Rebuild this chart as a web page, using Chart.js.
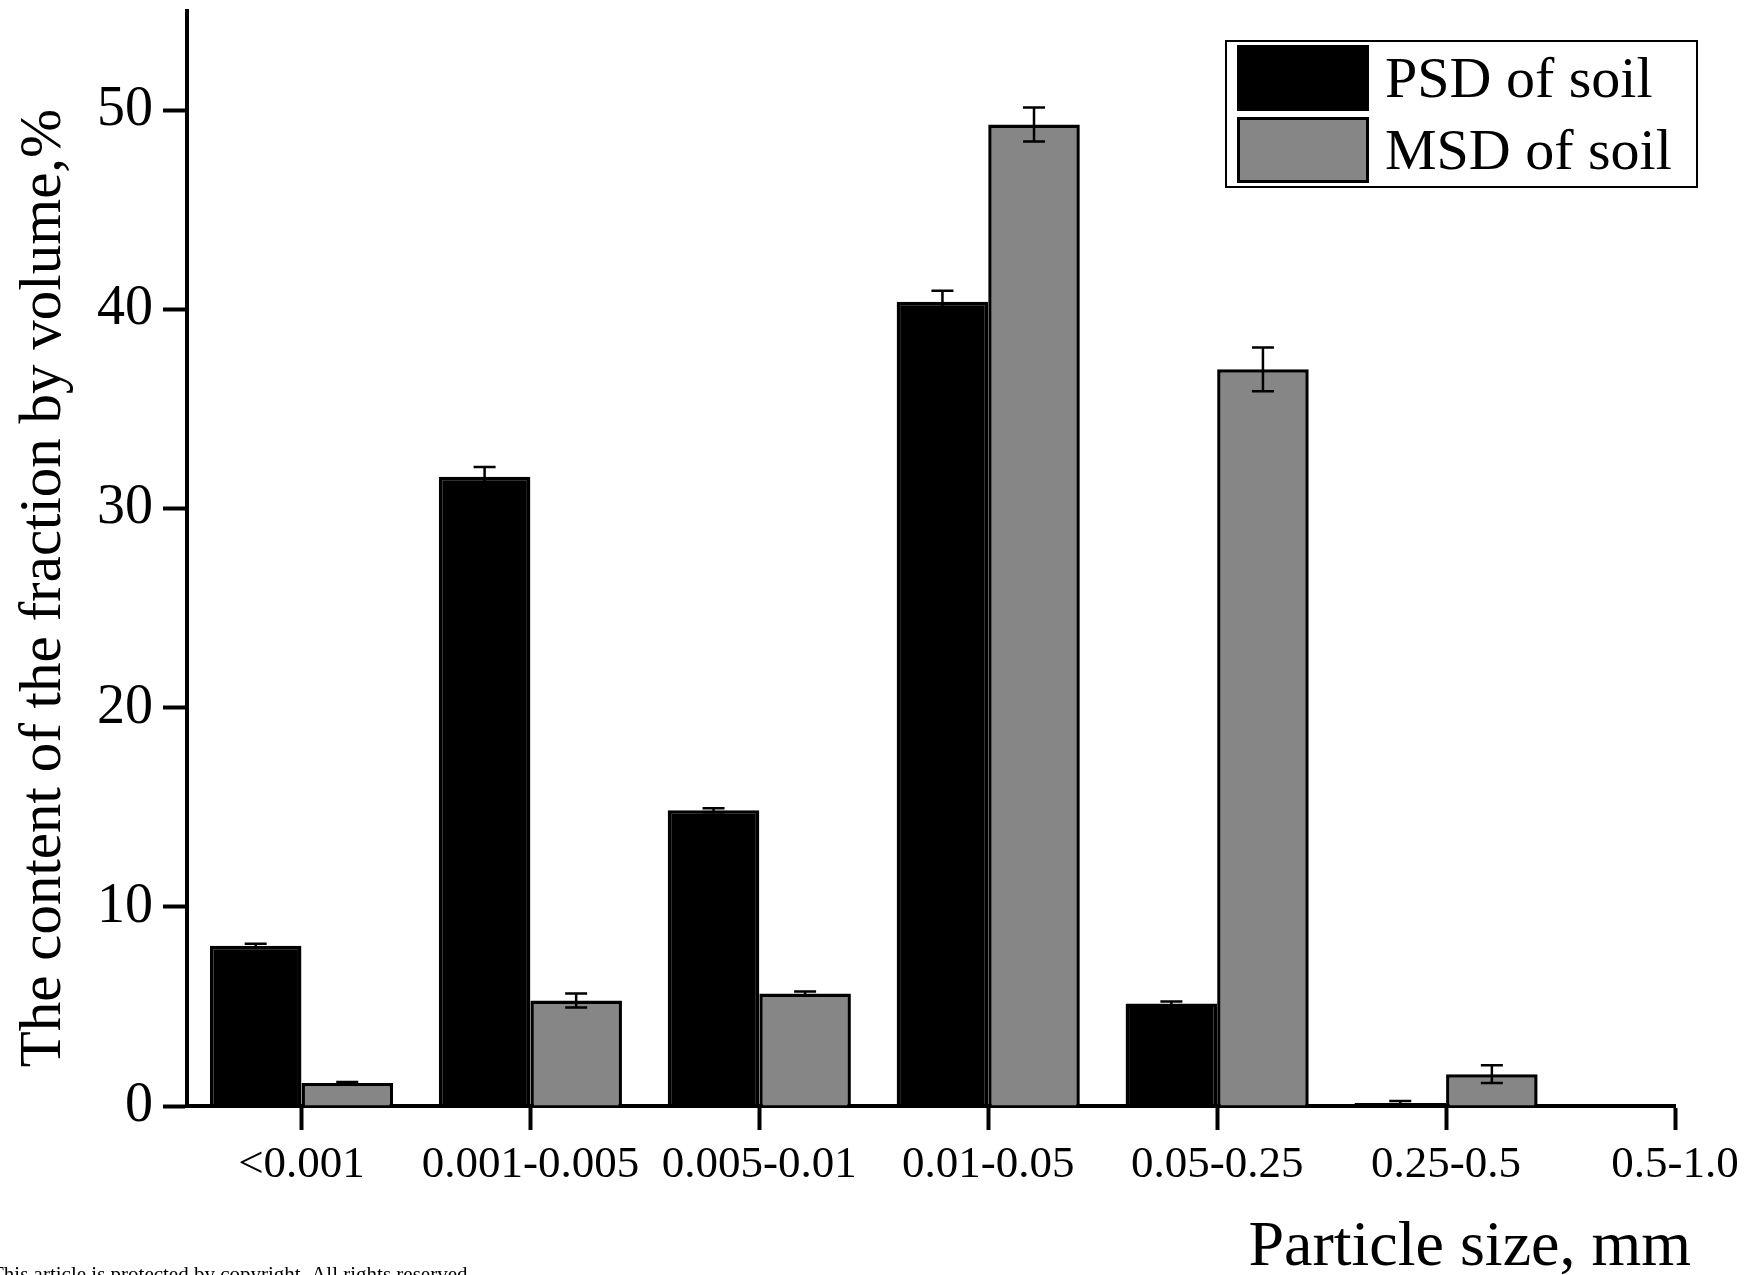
<!DOCTYPE html>
<html lang="en">
<head>
<meta charset="UTF-8">
<title>Particle size distribution of soil</title>
<script src="https://cdn.jsdelivr.net/npm/chart.js"></script>
<style>
  html, body { margin: 0; padding: 0; background: #fff; overflow: hidden; }
</style>
</head>
<body>
<canvas id="sizeChart" width="1747" height="1275"></canvas>
<script>
// particle size fractions, mm
const sizeLabels = ['<0.001', '0.001-0.005', '0.005-0.01', '0.01-0.05', '0.05-0.25', '0.25-0.5', '0.5-1.0'];
// content of each fraction by volume, %
const psdValues = [8.05, 31.6, 14.85, 40.4, 5.15, 0.15];
const psdErrors = [0.1, 0.5, 0.1, 0.55, 0.1, 0.1];
const msdValues = [1.15, 5.3, 5.65, 49.3, 37.0, 1.6];
const msdErrors = [0.06, 0.35, 0.1, 0.85, 1.1, 0.45];
const yTicks = [0, 10, 20, 30, 40, 50];

const serif = "'Liberation Serif', 'Times New Roman', serif";

function toPoints(values) {
    return values.map((v, i) => ({ x: i, y: v }));
}

// draws the +/- error whiskers on top of every bar
const errorBars = {
    id: 'errorBars',
    afterDatasetsDraw(chart) {
        const ctx = chart.ctx;
        const yScale = chart.scales.y;
        ctx.save();
        ctx.strokeStyle = '#000';
        ctx.lineWidth = 2.5;
        chart.data.datasets.forEach((ds, di) => {
            chart.getDatasetMeta(di).data.forEach((bar, i) => {
                const v = ds.data[i].y;
                const e = ds.errors[i];
                const top = yScale.getPixelForValue(v + e);
                const bot = yScale.getPixelForValue(Math.max(0, v - e));
                ctx.beginPath();
                ctx.moveTo(bar.x, top); ctx.lineTo(bar.x, bot);
                ctx.moveTo(bar.x - 11, top); ctx.lineTo(bar.x + 11, top);
                ctx.moveTo(bar.x - 11, bot); ctx.lineTo(bar.x + 11, bot);
                ctx.stroke();
            });
        });
        ctx.restore();
    }
};

// axis titles, framed legend and the page footer text
const decorations = {
    id: 'decorations',
    afterDraw(chart) {
        const ctx = chart.ctx;
        ctx.save();
        ctx.fillStyle = '#000';

        // y title
        ctx.font = '59px ' + serif;
        ctx.textAlign = 'center';
        ctx.textBaseline = 'alphabetic';
        ctx.save();
        ctx.translate(60, 588);
        ctx.rotate(-Math.PI / 2);
        ctx.fillText('The content of the fraction by volume,%', 0, 0);
        ctx.restore();

        // x title
        ctx.font = '64px ' + serif;
        ctx.textAlign = 'right';
        ctx.fillText('Particle size, mm', 1691, 1265);

        // legend
        ctx.lineWidth = 2;
        ctx.strokeStyle = '#000';
        ctx.strokeRect(1226, 41, 471, 146);
        ctx.font = '58px ' + serif;
        ctx.textAlign = 'left';
        chart.data.datasets.forEach((ds, i) => {
            const top = 45 + i * 72;
            ctx.fillStyle = ds.backgroundColor;
            ctx.fillRect(1237, top, 132, 66);
            ctx.lineWidth = 3;
            ctx.strokeRect(1238.5, top + 1.5, 129, 63);
            ctx.fillStyle = '#000';
            ctx.fillText(ds.label, 1385, top + 52);
        });

        // footer
        ctx.font = '21px ' + serif;
        ctx.fillText('This article is protected by copyright. All rights reserved', -9, 1281);
        ctx.restore();
    }
};

new Chart(document.getElementById('sizeChart'), {
    type: 'bar',
    data: {
        datasets: [
            {
                label: 'PSD of soil',
                data: toPoints(psdValues),
                errors: psdErrors,
                backgroundColor: '#000000',
                borderColor: '#000000',
                borderWidth: 3.5
            },
            {
                label: 'MSD of soil',
                data: toPoints(msdValues),
                errors: msdErrors,
                backgroundColor: '#868686',
                borderColor: '#000000',
                borderWidth: 3.5
            }
        ]
    },
    options: {
        responsive: false,
        animation: false,
        categoryPercentage: 0.8,
        barPercentage: 1.0,
        layout: { padding: { top: 11, right: 72, left: 0, bottom: 0 } },
        plugins: { legend: { display: false }, tooltip: { enabled: false } },
        scales: {
            x: {
                type: 'linear',
                offset: false,
                min: -0.5,
                max: 6,
                afterBuildTicks: s => { s.ticks = sizeLabels.map((_, i) => ({ value: i })); },
                afterFit: s => { s.height = 169; s.paddingLeft = 0; s.paddingRight = 0; },
                ticks: {
                    callback: v => sizeLabels[v],
                    font: { family: serif, size: 45 },
                    color: '#000',
                    padding: 8,
                    maxRotation: 0,
                    autoSkip: false
                },
                grid: { offset: false, drawOnChartArea: false, drawTicks: true, tickLength: 24, tickWidth: 4, tickColor: '#000' },
                border: { display: true, color: '#000', width: 4 }
            },
            y: {
                min: 0,
                max: 55,
                afterBuildTicks: s => { s.ticks = yTicks.map(v => ({ value: v })); },
                afterFit: s => { s.width = 187; s.paddingTop = 0; s.paddingBottom = 0; },
                ticks: {
                    font: { family: serif, size: 56 },
                    color: '#000',
                    padding: 10
                },
                grid: { drawOnChartArea: false, drawTicks: true, tickLength: 24, tickWidth: 4, tickColor: '#000' },
                border: { display: true, color: '#000', width: 4 }
            }
        }
    },
    plugins: [errorBars, decorations]
});
</script>
</body>
</html>
